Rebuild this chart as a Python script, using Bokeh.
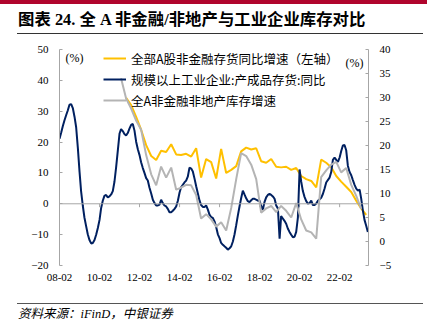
import pandas as pd
from datetime import datetime
from bokeh.plotting import figure
from bokeh.models import (Range1d, LinearAxis, FixedTicker, DatetimeTickFormatter, Span,
                          Legend, LegendItem, Div, ColumnDataSource)
from bokeh.layouts import column
from bokeh.embed import file_html
from bokeh.resources import INLINE
from bokeh.core.properties import value

# ---------------- data ----------------
title_text = "图表 24. 全 A 非金融/非地产与工业企业库存对比"
source_text = "资料来源：iFinD，中银证券"
series_names = ["全部A股非金融存货同比增速（左轴）",
                "规模以上工业企业:产成品存货:同比",
                "全A非金融非地产库存增速"]
unit_text = "(%)"

# industrial enterprises finished-goods inventory yoy, monthly from 2008-02 (right axis)
navy_start = "2008-02-01"
navy = [
    21.4, 22.6, 24.0, 25.2, 26.3, 27.3, 28.5, 28.6, 27.8, 26.0, 23.8,          # 2008
    19.5, 14.5, 10.5, 7.5, 5.0, 3.2, 1.5, 0.3, -0.4, -0.3, 0.3, 1.4,          # 2009
    2.8, 4.5, 6.9, 8.5, 9.5, 9.7, 9.2, 9.4, 9.8, 10.5, 12.5, 15.5,            # 2010
    19.0, 22.5, 23.4, 23.0, 22.4, 22.1, 22.6, 23.5, 24.3, 24.5, 23.1, 20.8,   # 2011
    19.2, 18.0, 16.5, 15.3, 14.3, 13.2, 12.7, 11.2, 10.0, 8.7, 8.0, 7.5,      # 2012
    7.5, 7.7, 8.7, 8.0, 7.5, 7.3, 6.8, 6.1, 6.1, 6.4, 6.8, 7.3,               # 2013
    8.5, 10.2, 11.3, 11.8, 12.3, 12.7, 13.5, 15.4, 15.2, 14.6, 13.1, 11.5,    # 2014
    10.0, 8.5, 7.6, 7.2, 7.2, 7.5, 6.7, 5.6, 5.1, 4.9, 4.2, 3.0,              # 2015
    1.5, 0.7, -0.3, -0.7, -1.0, -1.3, -1.7, -1.4, -1.0, 0.0, 1.5, 3.4,        # 2016
    5.5, 7.4, 9.0, 10.6, 9.8, 9.0, 8.4, 8.2, 8.6, 8.9, 8.9, 8.7,              # 2017
    8.5, 8.5, 7.4, 6.6, 8.2, 9.2, 9.7, 9.9, 9.7, 9.4, 8.9, 7.5,               # 2018
    6.9, 0.6, 5.3, 4.8, 4.3, 3.7, 2.7, 2.0, 1.4, 0.9, 1.0, 2.0,               # 2019
    5.0, 15.0, 12.5, 10.5, 9.3, 8.4, 7.9, 8.0, 8.5, 7.6, 7.6, 7.9,            # 2020
    8.5, 8.8, 9.1, 9.9, 11.0, 12.3, 12.8, 13.3, 14.5, 17.0, 17.5, 17.0,       # 2021
    16.6, 17.5, 18.8, 20.0, 20.1, 19.0, 15.8, 14.5, 13.8, 12.8, 11.8, 11.0,   # 2022
    10.6, 10.8, 9.0, 6.5, 4.5, 3.3, 2.0,                                      # 2023
]

# all-A non-financial inventory yoy, quarterly from 2011-06 (left axis)
yellow_start = "2011-06-01"
yellow = [
    34.3, 32.0, 28.2,
    24.0, 19.0, 15.5, 14.2,
    17.2, 16.8, 19.3, 16.0,
    15.8, 16.2, 15.3, 18.0,
    8.5, 14.5, 13.5, 8.2,
    17.8, 10.0, 11.0, 12.2,
    17.0, 18.2, 17.6, 18.0,
    13.8, 13.3, 14.5, 12.0,
    11.8, 12.0, 11.0, 11.6,
    9.0, 8.0, 7.4, 5.3,
    14.3, 13.3, 11.8, 9.0,
    7.2, 5.5, 3.8, 1.0,
    -1.5, -3.6,
]

# all-A non-financial non-real-estate inventory growth, quarterly from 2011-03 (right axis)
gray_start = "2011-03-01"
gray = [
    34.0, 29.8, 27.7, 25.2,
    23.3, 18.0, 14.0, 11.7,
    15.6, 13.3, 15.4, 10.8,
    11.2, 11.8, 11.7, 9.7,
    4.8, 5.7, 4.6, 3.1,
    4.0, 2.3, 7.0, 13.0,
    18.4, 17.8, 16.0, 13.0,
    6.0, 6.9, 7.4, 6.1,
    7.4, 6.4, 5.0, 8.0,
    4.6, 2.3, 1.9, 0.6,
    13.4, 14.8, 16.0, 16.6,
    14.4, 15.3, 11.8, 9.5,
    6.8,
]

xtick_labels = ["08-02", "10-02", "12-02", "14-02", "16-02", "18-02", "20-02", "22-02"]
left_ticks = [-20, -10, 0, 10, 20, 30, 40, 50]
right_ticks = [-5, 0, 5, 10, 15, 20, 25, 30, 35, 40]

# ---------------- build ----------------
navy_src = ColumnDataSource(dict(x=pd.date_range(navy_start, periods=len(navy), freq="MS"), y=navy))
yellow_src = ColumnDataSource(dict(x=pd.date_range(yellow_start, periods=len(yellow), freq="3MS"), y=yellow))
gray_src = ColumnDataSource(dict(x=pd.date_range(gray_start, periods=len(gray), freq="3MS"), y=gray))

def ms(ts):
    return pd.Timestamp(ts).value / 1e6

xtick_ms = [ms(datetime(2000 + int(s[:2]), int(s[3:]), 1)) for s in xtick_labels]
x0, x1 = ms(datetime(2008, 2, 1)), ms(datetime(2023, 7, 13))
yl0, yl1 = -20, 50
yr0, yr1 = -5, 40
FRAME_W, FRAME_H = 309, 216

p = figure(width=435, height=262, x_axis_type="datetime", output_backend="svg",
           toolbar_location=None, title=None,
           x_range=Range1d(x0, x1), y_range=Range1d(yl0, yl1),
           min_border_left=59, min_border_right=67, min_border_top=9, min_border_bottom=37)
p.outline_line_color = None
p.xgrid.visible = False
p.ygrid.visible = False
p.background_fill_color = "white"
p.border_fill_color = "white"

p.extra_y_ranges = {"right": Range1d(yr0, yr1)}
raxis = LinearAxis(y_range_name="right")
p.add_layout(raxis, "right")

p.yaxis[0].ticker = FixedTicker(ticks=left_ticks)
raxis.ticker = FixedTicker(ticks=right_ticks)
for ax in (p.yaxis[0], raxis):
    ax.axis_line_color = "#A6A6A6"
    ax.major_tick_line_color = "#A6A6A6"
    ax.major_tick_in = 3
    ax.major_tick_out = 0
    ax.minor_tick_line_color = None
    ax.major_label_text_font = "Liberation Serif"
    ax.major_label_text_font_size = "11px"
    ax.major_label_text_color = "#000000"
    ax.major_label_standoff = 11

xa = p.xaxis[0]
xa.ticker = FixedTicker(ticks=xtick_ms)
fmt = "%y-%m"
xa.formatter = DatetimeTickFormatter(years=fmt, months=fmt, days=fmt, hours=fmt, minutes=fmt,
                                     seconds=fmt, milliseconds=fmt, microseconds=fmt, hourmin=fmt,
                                     minsec=fmt)
xa.axis_line_color = None
xa.major_tick_line_color = None
xa.minor_tick_line_color = None
xa.major_label_text_font = "Liberation Serif"
xa.major_label_text_font_size = "11px"
xa.major_label_text_color = "#000000"
xa.major_label_standoff = 2

# zero line with small ticks
p.add_layout(Span(location=0, dimension="width", line_color="#A6A6A6", line_width=1))
p.segment(x0=xtick_ms, y0=[0] * len(xtick_ms), x1=xtick_ms, y1=[-1.1] * len(xtick_ms),
          line_color="#A6A6A6", line_width=1)

r_yellow = p.line("x", "y", source=yellow_src, line_color="#FFC000", line_width=2)
r_navy = p.line("x", "y", source=navy_src, line_color="#002060", line_width=2, y_range_name="right")
r_gray = p.line("x", "y", source=gray_src, line_color="#B4B4B4", line_width=2, y_range_name="right")

# unit labels near the top of each axis (pixel offsets inside the frame -> range units)
def fx(px):
    return x0 + (x1 - x0) * px / FRAME_W

p.text(x=[fx(6)], y=[yl1 - (yl1 - yl0) * 8 / FRAME_H], text=[unit_text],
       text_baseline="middle", text_align="left", text_font=value("Liberation Serif"),
       text_font_size="12px", text_color="black", text_alpha=1.0)
p.text(x=[fx(286)], y=[yr1 - (yr1 - yr0) * 13 / FRAME_H], text=[unit_text], y_range_name="right",
       text_baseline="middle", text_align="left", text_font=value("Liberation Serif"),
       text_font_size="12px", text_color="black", text_alpha=1.0)

# legend: bottom-left corner given from frame bottom-left (screen px)
legend = Legend(items=[LegendItem(label=value(series_names[0]), renderers=[r_yellow]),
                       LegendItem(label=value(series_names[1]), renderers=[r_navy]),
                       LegendItem(label=value(series_names[2]), renderers=[r_gray])],
                location=(44, 155), orientation="vertical",
                glyph_width=23, glyph_height=20, label_height=20, label_width=10,
                spacing=1, padding=0, margin=0, label_standoff=5,
                background_fill_alpha=0, border_line_color=None,
                label_text_font="Noto Sans CJK SC", label_text_font_size="12.5px",
                label_text_color="#000000")
p.add_layout(legend)

top_html = (
    '<div style="position:relative;width:435px;height:40px;background:#fff;overflow:hidden;">'
    '<div style="position:absolute;left:0;top:0;width:427px;height:4px;background:#B0052D;"></div>'
    '<div style="position:absolute;left:18px;top:10px;font-family:\'Liberation Serif\',\'Noto Sans CJK SC\';'
    'font-weight:bold;font-size:16.4px;line-height:20px;white-space:nowrap;color:#000;">'
    + title_text +
    '</div>'
    '<div style="position:absolute;left:17px;top:33px;width:406px;height:1px;background:#333;"></div>'
    '</div>'
)
bottom_html = (
    '<div style="position:relative;width:435px;height:27px;background:#fff;overflow:hidden;">'
    '<div style="position:absolute;left:17px;top:1px;width:406px;height:1px;background:#555;"></div>'
    '<div style="position:absolute;left:18px;top:4px;font-family:\'Liberation Serif\',\'Noto Sans CJK SC\';'
    'font-style:italic;font-size:12.5px;line-height:16px;white-space:nowrap;color:#000;">'
    + source_text +
    '</div>'
    '</div>'
)
top_div = Div(text=top_html, width=435, height=40, margin=0)
bottom_div = Div(text=bottom_html, width=435, height=27, margin=0)

layout = column(top_div, p, bottom_div, spacing=0)

open("out.html", "w").write(file_html(layout, INLINE))
